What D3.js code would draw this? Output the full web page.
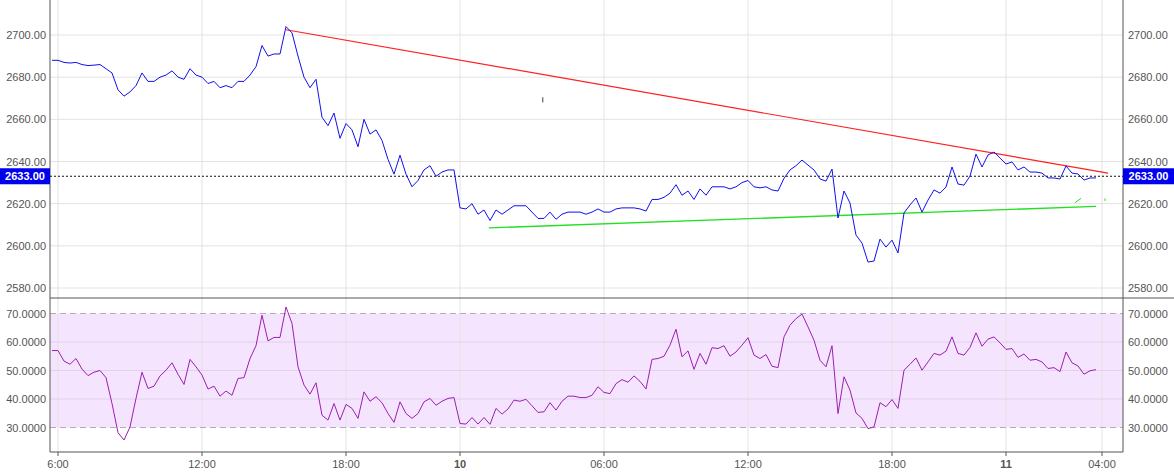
<!DOCTYPE html>
<html><head><meta charset="utf-8">
<script src="https://cdn.jsdelivr.net/npm/d3@7"></script>
<style>body{margin:0;background:#fff}svg{display:block;font-family:"Liberation Sans",Arial,sans-serif}</style>
</head><body><svg id="c" width="1174" height="474"></svg>
<script>
const price = [2688,2688,2687,2686.7,2687,2686,2685.5,2685.7,2686,2684,2682,2674,2671,2673,2676,2682,2678,2678,2680,2681,2683,2680,2679,2684,2681,2680,2677,2678,2675,2676,2675,2678,2678,2681,2685,2695,2690,2691,2691,2704,2701,2690,2680,2675,2679,2661,2657,2663,2651,2658,2655,2647,2660,2653,2655,2650,2641,2634,2643,
2634,2628,2631,2636,2638,2633,2635,2636,2636,2618,2617.5,2620,2615,2617,2612,2617,2615,2617,2619,2619,2619,2616,2613,2613,2616,2612.6,2615,2616,2616,2616,2615,2616,2617.5,2616,2616,2617.5,2618,2618,2618,2617.5,2616.5,2622,2622,2623,2625,2629,2624,2626,2622,2627,2624,2628,2628,2628,2627,2628,2630,2631,2628,2627.5,2628,2626.5,2626,2632,2636,2638,
2640.7,2638.3,2636,2631.7,2630.7,2636.4,2613.2,2626,2620.3,2605.1,2601.3,2592.3,2592.8,2603.2,2599.4,2602.7,2596.6,2615.6,2619.4,2622.7,2616,2621.7,2626.5,2625,2627.9,2637.4,2629.3,2628.8,2633.1,2643.5,2637.4,2643.1,2644.5,2641.7,2638.8,2639.8,2636,2637.4,2635,2635,2634.5,2632.2,2632.2,2631.7,2637.9,2634.5,2634.1,2631.2,2632.2,2632.2];
const rsi = [57,57,53.3,52.2,54.2,50.5,48.2,49.4,50,47.5,38.4,28.2,25.6,30.2,40.2,49.4,43.7,44.5,48.1,50.1,52.7,48.7,45.1,53.9,51.3,48.4,43.5,44.5,41,42.8,41.3,47.2,47.5,54.2,58.7,69.4,60.4,61.6,61.6,72.3,66.5,51.3,44.9,41.7,45.7,34.3,32.6,38.4,32.6,38.1,36.7,33.2,42.5,39.2,40.8,38.7,34.9,31.8,39,34.9,33.2,34.9,39,40.2,37.8,39.2,40.2,40.5,31.4,31.2,33.5,31.2,33.5,31.1,36.7,34.7,36.5,39.6,39.2,39.9,37.6,35.3,35.5,38.7,36.1,39.2,41,41,40.5,40.5,41.3,44.3,
42.3,41.9,45.4,46.8,45.9,48.1,46.2,43.5,53.9,54.2,55,58.9,64.5,54.8,56.9,50.4,56,52.2,58,57.7,58.7,55,56.5,58.9,61.5,55.4,54.2,55.6,51.5,51,61.8,65.9,68.2,69.8,65.3,60.6,53.6,51.3,58.7,34.9,47.8,43.1,35.1,33.2,29.6,30.2,38.7,37.3,39.8,36.7,50.1,52.2,54.4,50.1,53,56,55.4,56.8,61.8,56,55.4,58.1,63.2,58.5,61,61.8,59.7,57.4,57.7,54.6,55.8,53.6,53.9,53,50.7,51,49.6,56.5,52.7,51.6,48.7,49.9,50.3];
const tickIdx = [1,25,49,68,92,116,140,159,175];
const tickLabels = ["6:00","12:00","18:00","10","06:00","12:00","18:00","11","04:00"];
const boldTicks = ["10","11"];
const priceTicks = [2580,2600,2620,2640,2660,2680,2700];
const rsiTicks = [30,40,50,60,70];
const lastPrice = 2633;
const resistance = [[39,2702.5],[176,2634.5]];
const support = [[72.8,2608.5],[174,2618.7]];

const svg = d3.select("#c");
const L=50,R=1123;
const x = d3.scaleLinear().domain([0,1]).range([52,58]);
const y = d3.scaleLinear().domain([2580,2700]).range([288,35]);
const yr = d3.scaleLinear().domain([30,70]).range([427.5,313.5]);
const g = svg.append("g");
// rsi band
g.append("rect").attr("x",L).attr("width",R-L).attr("y",yr(70)).attr("height",yr(30)-yr(70)).attr("fill","#f4e4fd");
// grids
tickIdx.forEach(i=>g.append("line").attr("x1",x(i)).attr("x2",x(i)).attr("y1",0).attr("y2",452).attr("stroke","#e3e3e3"));
priceTicks.forEach(v=>g.append("line").attr("x1",L).attr("x2",R).attr("y1",y(v)).attr("y2",y(v)).attr("stroke","#e3e3e3"));
rsiTicks.forEach(v=>g.append("line").attr("x1",L).attr("x2",R).attr("y1",yr(v)).attr("y2",yr(v)).attr("stroke",(v==30||v==70)?"#b8a8c0":"#e2d0ec").attr("stroke-dasharray",(v==30||v==70)?"6,4":null));
// axes frame
g.append("line").attr("x1",L).attr("x2",L).attr("y1",0).attr("y2",452).attr("stroke","#555");
g.append("line").attr("x1",R).attr("x2",R).attr("y1",0).attr("y2",452).attr("stroke","#555");
g.append("line").attr("x1",L).attr("x2",1174).attr("y1",298).attr("y2",298).attr("stroke","#555");
g.append("line").attr("x1",L).attr("x2",R).attr("y1",452).attr("y2",452).attr("stroke","#555");
const txt = (xx,yy,t,anchor,opt={})=>g.append("text").attr("x",xx).attr("y",yy).attr("text-anchor",anchor).attr("font-size",opt.fs||11).attr("fill",opt.fill||"#555").attr("font-weight",opt.fw||"normal").text(t);
priceTicks.forEach(v=>{txt(46,y(v)+4,v.toFixed(2),"end");txt(1128,y(v)+4,v.toFixed(2),"start");});
rsiTicks.forEach(v=>{txt(46,yr(v)+4,v.toFixed(4),"end");txt(1128,yr(v)+4,v.toFixed(4),"start");});
tickIdx.forEach((i,k)=>{g.append("line").attr("x1",x(i)).attr("x2",x(i)).attr("y1",452).attr("y2",456).attr("stroke","#555");
  txt(x(i),468,tickLabels[k],"middle",{fw:boldTicks.includes(tickLabels[k])?"bold":"normal"});});
// last price line
g.append("line").attr("x1",L).attr("x2",R).attr("y1",y(lastPrice)).attr("y2",y(lastPrice)).attr("stroke","#111").attr("stroke-dasharray","2,2");
// trend lines
const tl = d3.line().x(d=>x(d[0])).y(d=>y(d[1]));
g.append("path").attr("d",tl(resistance)).attr("stroke","#ff2020").attr("fill","none").attr("stroke-width",1.2);
g.append("path").attr("d",tl(support)).attr("stroke","#22e022").attr("fill","none").attr("stroke-width",1.4);
g.append("path").attr("d",tl([[170.5,2620.5],[171.5,2622.5]])).attr("stroke","#22e022").attr("fill","none");
g.append("path").attr("d",tl([[175.5,2621.3],[175.5,2622.5]])).attr("stroke","#22e022").attr("fill","none");
g.append("path").attr("d",tl([[81.8,2670.5],[81.8,2668]])).attr("stroke","#444").attr("fill","none");
// series
g.append("path").attr("d",d3.line().x((d,i)=>x(i)).y(d=>y(d))(price)).attr("stroke","#1010ee").attr("fill","none").attr("stroke-width",1);
g.append("path").attr("d",d3.line().x((d,i)=>x(i)).y(d=>yr(d))(rsi)).attr("stroke","#9c1fb0").attr("fill","none").attr("stroke-width",1);
// price labels
[[0,L],[R,1174]].forEach(([a,b])=>{g.append("rect").attr("x",a).attr("width",b-a).attr("y",y(lastPrice)-8).attr("height",16).attr("fill","#0000ee");
  txt((a+b)/2,y(lastPrice)+4,lastPrice.toFixed(2),"middle",{fill:"#fff",fw:"bold"});});
</script></body></html>
